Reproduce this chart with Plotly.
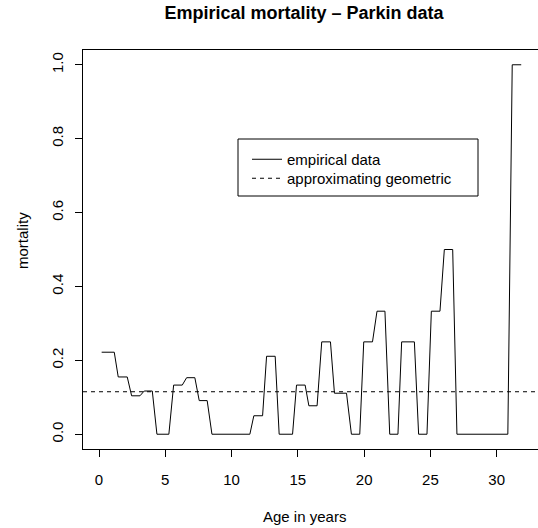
import plotly.graph_objects as go

# Empirical mortality by age (horizontal segments)
seg_start = [0.20, 1.45, 2.46, 3.41, 4.37, 5.63, 6.61, 7.56, 8.52, 11.68, 12.64, 13.59, 14.90,
             15.83, 16.80, 17.76, 19.04, 19.97, 20.97, 21.93, 22.83, 24.11, 25.07, 26.05, 27.00, 31.17]
seg_end = [1.15, 2.13, 3.09, 4.02, 5.27, 6.28, 7.23, 8.16, 11.38, 12.34, 13.29, 14.60, 15.55,
           16.45, 17.46, 18.67, 19.67, 20.63, 21.57, 22.55, 23.79, 24.74, 25.72, 26.68, 30.84, 31.85]
mortality = [0.222, 0.155, 0.104, 0.117, 0.0, 0.133, 0.153, 0.091, 0.0, 0.05, 0.211, 0.0, 0.133,
             0.077, 0.25, 0.111, 0.0, 0.25, 0.333, 0.0, 0.25, 0.0, 0.333, 0.5, 0.0, 1.0]
geometric_rate = 0.115

x_ticks = [0, 5, 10, 15, 20, 25, 30]
y_ticks = [0.0, 0.2, 0.4, 0.6, 0.8, 1.0]
y_ticktext = ["0.0", "0.2", "0.4", "0.6", "0.8", "1.0"]

FONT = "Liberation Sans, Arial, Helvetica, sans-serif"

xs, ys = [], []
for s, e, v in zip(seg_start, seg_end, mortality):
    xs += [s, e]
    ys += [v, v]

W, H = 538, 528
L, R, T, B = 83, 0, 50, 79
pw, ph = W - L - R, H - T - B


def px2paper_x(px):
    return (px - L) / pw


def px2paper_y(py):
    return (H - B - py) / ph


DASH = dict(color="black", width=1, dash="4px,4px")

fig = go.Figure()
fig.add_trace(go.Scatter(x=xs, y=ys, mode="lines", name="empirical data",
                         line=dict(color="black", width=1), legend="legend"))
# legend entry for the horizontal reference line (drawn as a shape below)
fig.add_trace(go.Scatter(x=[None], y=[None], mode="lines", name="approximating geometric",
                         line=DASH, legend="legend2"))

fig.add_hline(y=geometric_rate, line=DASH)

# legend frame
fig.add_shape(type="rect", xref="paper", yref="paper",
              x0=px2paper_x(238), x1=px2paper_x(478), y0=px2paper_y(196), y1=px2paper_y(139),
              line=dict(color="black", width=1), fillcolor="rgba(0,0,0,0)", layer="above")

LEG = dict(xanchor="left", yanchor="top", bgcolor="rgba(0,0,0,0)", borderwidth=0,
           font=dict(size=15, family=FONT), itemwidth=30)

fig.update_layout(
    width=W, height=H,
    margin=dict(l=L, r=R, t=T, b=B, pad=0),
    paper_bgcolor="white", plot_bgcolor="white",
    font=dict(family=FONT, size=15, color="black"),
    title=dict(text="<b>Empirical mortality – Parkin data</b>", x=304 / W, xanchor="center",
               y=1 - 13 / H, yanchor="middle", font=dict(size=18, family=FONT, color="black")),
    showlegend=True,
    legend=dict(x=px2paper_x(247), y=px2paper_y(143), **LEG),
    legend2=dict(x=px2paper_x(247), y=px2paper_y(162), **LEG),
    xaxis=dict(range=[-1.207, 33.115], tickvals=x_ticks, ticks="outside", ticklen=7,
               tickcolor="black", showline=True, linecolor="black", linewidth=1, mirror=True,
               showgrid=False, zeroline=False, ticklabelstandoff=10,
               tickfont=dict(size=15, family=FONT)),
    yaxis=dict(range=[-0.04, 1.04], tickvals=y_ticks, ticktext=y_ticktext, tickangle=-90,
               ticks="outside", ticklen=7, tickcolor="black", showline=True, linecolor="black",
               linewidth=1, mirror=False, showgrid=False, zeroline=False, ticklabelstandoff=6,
               tickfont=dict(size=15, family=FONT)),
    annotations=[
        dict(text="Age in years", xref="paper", yref="paper", x=px2paper_x(304), y=px2paper_y(516),
             xanchor="center", yanchor="middle", showarrow=False, font=dict(size=15)),
        dict(text="mortality", xref="paper", yref="paper", x=px2paper_x(22), y=px2paper_y(241),
             xanchor="center", yanchor="middle", textangle=-90, showarrow=False,
             font=dict(size=15)),
    ],
)

fig.write_html("out.html")
